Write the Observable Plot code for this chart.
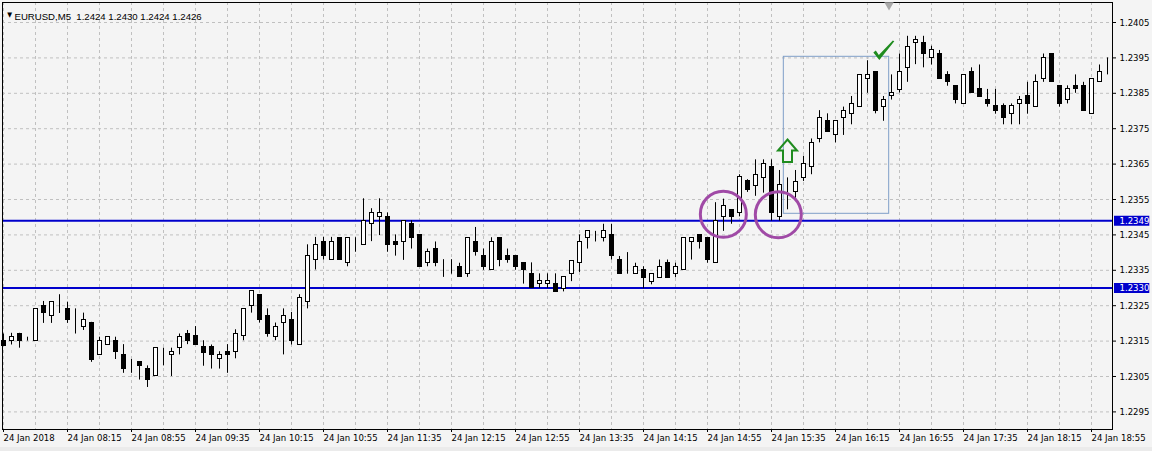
<!DOCTYPE html>
<html><head><meta charset="utf-8">
<script src="https://cdn.jsdelivr.net/npm/d3@7"></script>
<script src="https://cdn.jsdelivr.net/npm/@observablehq/plot@0.6"></script>
<style>
html,body{margin:0;padding:0;}
body{width:1152px;height:451px;overflow:hidden;background:linear-gradient(#f4f4f4 0 447px,#ebebeb 447px);}
svg{display:block;}
</style></head><body><div id="chart"></div>
<script>
// ---- data ----
const timeLabels = ["24 Jan 2018","24 Jan 08:15","24 Jan 08:55","24 Jan 09:35","24 Jan 10:15","24 Jan 10:55","24 Jan 11:35","24 Jan 12:15","24 Jan 12:55","24 Jan 13:35","24 Jan 14:15","24 Jan 14:55","24 Jan 15:35","24 Jan 16:15","24 Jan 16:55","24 Jan 17:35","24 Jan 18:15","24 Jan 18:55"];
const priceTicks = [1.2295,1.2305,1.2315,1.2325,1.2335,1.2345,1.2355,1.2365,1.2375,1.2385,1.2395,1.2405];
const levels = [1.2349, 1.2330];
const header = "EURUSD,M5  1.2424 1.2430 1.2424 1.2426";

const open = [
1.23151,1.23150,1.23170,1.23161,1.23150,1.23250,1.23221,1.23250,1.23241,1.23201,
1.23191,1.23201,1.23111,1.23140,1.23150,1.23111,1.23080,1.23091,1.23071,1.23050,
1.23120,1.23111,1.23130,1.23170,1.23163,1.23132,1.23132,1.23100,1.23119,1.23119,
1.23163,1.23249,1.23281,1.23221,1.23161,1.23201,1.23210,1.23139,1.23261,1.23379,
1.23431,1.23379,1.23442,1.23371,1.23431,1.23422,1.23481,1.23501,1.23501,1.23430,
1.23430,1.23481,1.23450,1.23370,1.23410,1.23360,1.23370,1.23360,1.23339,1.23430,
1.23391,1.23350,1.23442,1.23391,1.23391,1.23371,1.23340,1.23311,1.23311,1.23311,
1.23298,1.23339,1.23370,1.23441,1.23450,1.23441,1.23450,1.23379,1.23350,1.23339,
1.23350,1.23318,1.23329,1.23370,1.23339,1.23350,1.23430,1.23450,1.23441,1.23370,
1.23501,1.23521,1.23511,1.23601,1.23589,1.23611,1.23643,1.23500,1.23579,1.23571,
1.23611,1.23642,1.23721,1.23772,1.23731,1.23781,1.23792,1.23812,1.23891,1.23911,
1.23812,1.23841,1.23860,1.23922,1.23991,1.23991,1.23950,1.23961,1.23902,1.23871,
1.23820,1.23911,1.23861,1.23831,1.23813,1.23813,1.23791,1.23820,1.23841,1.23811,
1.23891,1.23961,1.23871,1.23831,1.23871,1.23871,1.23791,1.23881,1.23902];
const high = [
1.23170,1.23172,1.23172,1.23161,1.23241,1.23262,1.23260,1.23281,1.23260,1.23241,
1.23229,1.23203,1.23161,1.23161,1.23161,1.23140,1.23098,1.23091,1.23080,1.23130,
1.23130,1.23130,1.23170,1.23180,1.23191,1.23151,1.23139,1.23120,1.23140,1.23182,
1.23241,1.23292,1.23281,1.23241,1.23201,1.23241,1.23231,1.23281,1.23422,1.23443,
1.23443,1.23443,1.23442,1.23442,1.23442,1.23552,1.23524,1.23552,1.23512,1.23450,
1.23489,1.23490,1.23450,1.23410,1.23430,1.23380,1.23380,1.23370,1.23442,1.23471,
1.23410,1.23442,1.23442,1.23410,1.23391,1.23371,1.23371,1.23340,1.23340,1.23340,
1.23331,1.23377,1.23450,1.23460,1.23460,1.23480,1.23480,1.23389,1.23400,1.23370,
1.23360,1.23339,1.23379,1.23379,1.23370,1.23441,1.23441,1.23450,1.23441,1.23541,
1.23551,1.23521,1.23620,1.23606,1.23662,1.23662,1.23662,1.23632,1.23611,1.23632,
1.23672,1.23721,1.23801,1.23792,1.23772,1.23811,1.23841,1.23902,1.23942,1.23911,
1.23841,1.23902,1.23961,1.24011,1.24011,1.24011,1.23983,1.23971,1.23911,1.23871,
1.23902,1.23922,1.23930,1.23861,1.23861,1.23820,1.23820,1.23841,1.23881,1.23902,
1.23961,1.23961,1.23871,1.23871,1.23902,1.23881,1.23891,1.23930,1.23950];
const low = [
1.23135,1.23139,1.23130,1.23150,1.23150,1.23200,1.23200,1.23228,1.23200,1.23170,
1.23180,1.23090,1.23111,1.23140,1.23098,1.23059,1.23059,1.23040,1.23019,1.23050,
1.23080,1.23050,1.23111,1.23140,1.23139,1.23079,1.23071,1.23071,1.23059,1.23100,
1.23151,1.23229,1.23201,1.23161,1.23151,1.23111,1.23139,1.23139,1.23241,1.23351,
1.23379,1.23379,1.23379,1.23360,1.23401,1.23422,1.23431,1.23448,1.23401,1.23390,
1.23378,1.23410,1.23360,1.23360,1.23360,1.23330,1.23339,1.23330,1.23330,1.23390,
1.23350,1.23350,1.23360,1.23370,1.23350,1.23311,1.23299,1.23299,1.23299,1.23290,
1.23289,1.23318,1.23344,1.23410,1.23430,1.23430,1.23379,1.23339,1.23339,1.23339,
1.23298,1.23309,1.23329,1.23329,1.23329,1.23350,1.23379,1.23410,1.23370,1.23370,
1.23460,1.23480,1.23501,1.23570,1.23559,1.23568,1.23489,1.23489,1.23521,1.23552,
1.23601,1.23620,1.23710,1.23740,1.23710,1.23731,1.23761,1.23812,1.23850,1.23792,
1.23771,1.23831,1.23851,1.23881,1.23931,1.23922,1.23930,1.23891,1.23870,1.23820,
1.23820,1.23850,1.23840,1.23811,1.23791,1.23761,1.23761,1.23761,1.23791,1.23811,
1.23881,1.23881,1.23811,1.23820,1.23850,1.23800,1.23791,1.23881,1.23902];
const close = [
1.23137,1.23161,1.23150,1.23161,1.23241,1.23229,1.23260,1.23250,1.23209,1.23201,
1.23210,1.23098,1.23150,1.23161,1.23119,1.23070,1.23080,1.23080,1.23040,1.23130,
1.23120,1.23120,1.23161,1.23150,1.23139,1.23117,1.23110,1.23112,1.23110,1.23170,
1.23241,1.23292,1.23210,1.23169,1.23190,1.23221,1.23150,1.23272,1.23391,1.23422,
1.23390,1.23431,1.23379,1.23442,1.23431,1.23489,1.23512,1.23512,1.23421,1.23421,
1.23489,1.23441,1.23360,1.23401,1.23370,1.23360,1.23370,1.23330,1.23442,1.23401,
1.23360,1.23430,1.23378,1.23378,1.23360,1.23350,1.23299,1.23320,1.23320,1.23290,
1.23331,1.23377,1.23429,1.23460,1.23450,1.23460,1.23389,1.23339,1.23350,1.23360,
1.23329,1.23339,1.23360,1.23329,1.23360,1.23441,1.23441,1.23430,1.23379,1.23488,
1.23531,1.23501,1.23613,1.23578,1.23619,1.23651,1.23511,1.23591,1.23579,1.23599,
1.23651,1.23710,1.23781,1.23740,1.23772,1.23800,1.23820,1.23902,1.23902,1.23799,
1.23831,1.23851,1.23911,1.23982,1.24001,1.23961,1.23971,1.23891,1.23881,1.23831,
1.23902,1.23850,1.23840,1.23820,1.23800,1.23781,1.23813,1.23831,1.23820,1.23881,
1.23950,1.23881,1.23820,1.23861,1.23861,1.23800,1.23891,1.23911,1.23902];

// annotations (candle index, price)
const circleK = [89.98, 96.85];
const circleP = [1.235085, 1.235071];
const boxK = [97.54, 110.71];
const boxP = [1.235096, 1.239531];
const arrowK = [98.0];
const arrowP = [1.236876];
const checkK = [110.04];
const checkP = [1.239723];
const shiftK = [110.69];

// ---- font choice ----
function hasFont(name){
  const c=document.createElement("canvas").getContext("2d");
  const s="24 Jan 08:15 1.2345 EURUSD";
  let diff=false;
  for (const base of ["monospace","serif"]) {
    c.font="11px "+base; const a=c.measureText(s).width;
    c.font="11px '"+name+"', "+base; const b=c.measureText(s).width;
    if (a!==b) diff=true;
  }
  return diff;
}
let fontFamily="'Liberation Sans', Arial, sans-serif", fontSize=10;
if (hasFont("Liberation Sans Narrow")) { fontFamily="'Liberation Sans Narrow', sans-serif"; fontSize=11; }
else if (hasFont("DejaVu Sans Condensed")) { fontFamily="'DejaVu Sans Condensed', sans-serif"; fontSize=9.5; }

// ---- build ----
const candles = open.map((o,i)=>({k:i, o, h:high[i], l:low[i], c:close[i]}));
const labelK = timeLabels.map((_,i)=>i*8);
const gridK = d3.range(0, open.length, 4);
const xDomain = [-0.125, 138.625];
const yDomain = [1.2290028, 1.2410650];
const blue = "#0000cc", green = "#1f8c1f", grid = "#c0c0c0";

const arrowSymbol = { draw(ctx){
  ctx.moveTo(0,-11.3); ctx.lineTo(9.5,-0.3); ctx.lineTo(4.5,-0.3); ctx.lineTo(4.5,11.3);
  ctx.lineTo(-4.5,11.3); ctx.lineTo(-4.5,-0.3); ctx.lineTo(-9.5,-0.3); ctx.closePath(); } };
const checkSymbol = { draw(ctx){
  ctx.moveTo(-10.5,2.5); ctx.lineTo(-8,0.5); ctx.lineTo(-5,5); ctx.lineTo(9,-9.5);
  ctx.lineTo(10.5,-8.8); ctx.lineTo(-4.5,10); ctx.closePath(); } };

const chart = Plot.plot({
  width:1152, height:451,
  marginLeft:2, marginRight:40, marginTop:2, marginBottom:22,
  x:{domain:xDomain, axis:null},
  y:{domain:yDomain, axis:null},
  style:{background:"transparent", fontFamily, fontSize:fontSize+"px", color:"#000", overflow:"visible"},
  marks:[
    Plot.ruleY(priceTicks, {stroke:grid, strokeDasharray:"3,3"}),
    Plot.ruleX(gridK, {stroke:grid, strokeDasharray:"3,3"}),
    Plot.ruleY(levels, {stroke:blue, strokeWidth:2}),
    Plot.rect([0], {x1:boxK[0], x2:boxK[1], y1:boxP[0], y2:boxP[1], fill:"none", stroke:"#7f9fc8"}),
    Plot.ruleX(candles, {x:"k", y1:"l", y2:"h", stroke:"#000"}),
    Plot.rect(candles, {x1:d=>d.k-0.25, x2:d=>d.k+0.25, y1:"o", y2:"c",
      fill:d=>d.c>=d.o?"#fff":"#000", stroke:"#000", shapeRendering:"crispEdges"}),
    Plot.dot(circleK, {x:d=>d, y:(d,i)=>circleP[i], r:23, stroke:"#a04aa6", strokeWidth:3, fill:"none"}),
    Plot.dot(arrowK, {x:d=>d, y:(d,i)=>arrowP[i], symbol:arrowSymbol, stroke:green, strokeWidth:2, fill:"none", r:10}),
    Plot.dot(checkK, {x:d=>d, y:(d,i)=>checkP[i], symbol:checkSymbol, fill:green, stroke:"none", r:10}),
    Plot.frame({stroke:"#000"}),
    Plot.axisX({ticks:labelK, anchor:"bottom", tickSize:3, tickPadding:2, tickFormat:d=>timeLabels[d/8], textAnchor:"start", label:null}),
    Plot.axisY({ticks:priceTicks, anchor:"right", tickSize:3, tickPadding:4, tickFormat:d3.format(".4f"), label:null}),
    Plot.ruleY(levels, {x1:xDomain[1]+0.25, x2:xDomain[1]+4.66, stroke:blue, strokeWidth:10}),
    Plot.text(levels, {y:d=>d, x:xDomain[1], text:d3.format(".4f"), fill:"#fff", textAnchor:"start", dx:7}),
    Plot.text([header], {text:d=>d, frameAnchor:"top-left", dx:12, dy:11, textAnchor:"start",
      fontFamily:"'Liberation Sans', Arial, sans-serif", fontSize:9.6}),
    Plot.text(["▼"], {text:d=>d, frameAnchor:"top-left", dx:4.7, dy:9.5, fontSize:7}),
    Plot.dot(shiftK, {x:d=>d, frameAnchor:"top", symbol:"triangle", rotate:180, r:3.5, fill:"#a8a8a8", dy:2.5})
  ]
});
document.getElementById("chart").appendChild(chart);
</script></body></html>
